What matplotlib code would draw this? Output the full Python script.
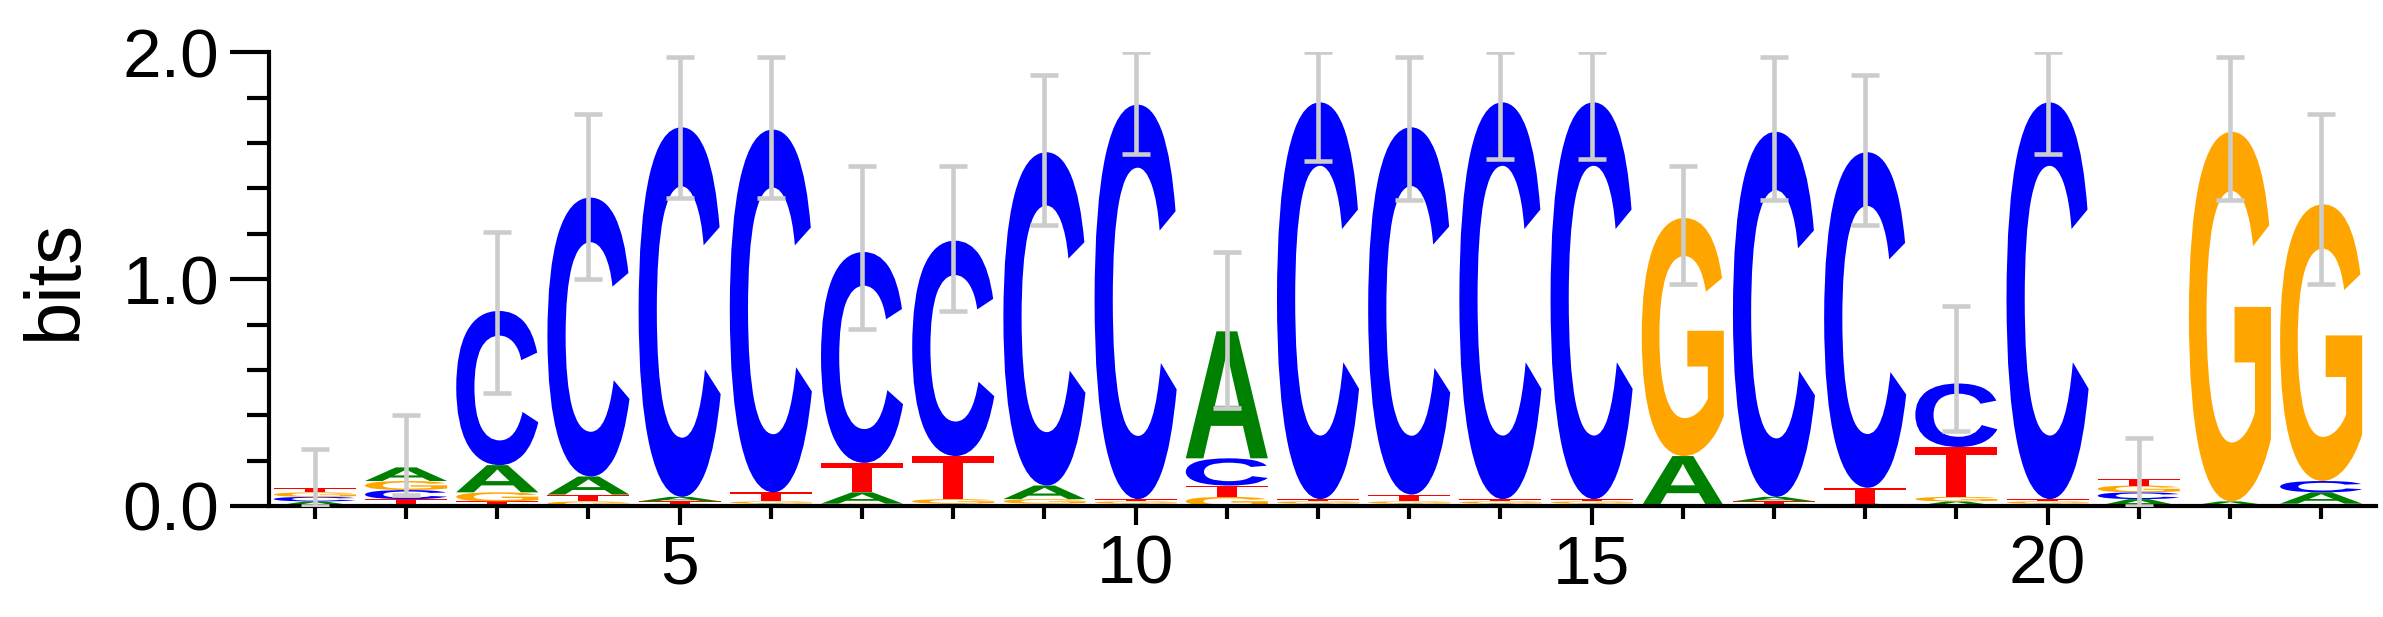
import matplotlib
matplotlib.use('Agg')
import matplotlib.pyplot as plt
import numpy as np
from matplotlib.textpath import TextPath
from matplotlib.patches import PathPatch
from matplotlib.font_manager import FontProperties
from matplotlib.transforms import Affine2D

plt.rcParams['font.family'] = ['Liberation Sans', 'DejaVu Sans']

positions = np.arange(1, 24)
# per-position letter heights in bits
A = [0.02, 0.06, 0.12, 0.08, 0.02, 0.01, 0.05, 0.01, 0.06, 0.01, 0.56, 0.01, 0.01, 0.01, 0.01, 0.22, 0.02, 0.01, 0.02, 0.01, 0.03, 0.02, 0.05]
C = [0.02, 0.04, 0.68, 1.23, 1.63, 1.60, 0.93, 0.95, 1.47, 1.74, 0.12, 1.75, 1.62, 1.75, 1.75, 0.00, 1.61, 1.48, 0.28, 1.75, 0.03, 0.00, 0.05]
G = [0.02, 0.04, 0.04, 0.02, 0.01, 0.01, 0.01, 0.02, 0.02, 0.01, 0.04, 0.01, 0.01, 0.01, 0.01, 1.05, 0.01, 0.00, 0.02, 0.01, 0.03, 1.63, 1.22]
T = [0.02, 0.03, 0.02, 0.03, 0.01, 0.04, 0.13, 0.19, 0.01, 0.01, 0.05, 0.01, 0.03, 0.01, 0.01, 0.00, 0.01, 0.07, 0.22, 0.01, 0.03, 0.00, 0.01]
err_lo = [0.00, 0.05, 0.50, 1.00, 1.36, 1.36, 0.78, 0.86, 1.24, 1.55, 0.43, 1.52, 1.35, 1.53, 1.53, 0.98, 1.35, 1.24, 0.33, 1.55, 0.00, 1.35, 0.98]
err_hi = [0.25, 0.40, 1.21, 1.73, 1.98, 1.98, 1.50, 1.50, 1.90, 2.00, 1.12, 2.00, 1.98, 2.00, 2.00, 1.50, 1.98, 1.90, 0.88, 2.00, 0.30, 1.98, 1.73]

colors = {'A': '#008000', 'C': '#0000ff', 'G': '#ffa500', 'T': '#ff0000'}
fp = FontProperties(family='Liberation Sans', weight='bold')


def draw_letter(ax, ch, x, y, w, h):
    tp = TextPath((0, 0), ch, size=1, prop=fp)
    bb = tp.get_extents()
    tr = (Affine2D().translate(-bb.x0, -bb.y0)
          .scale(w / bb.width, h / bb.height)
          .translate(x - w / 2, y))
    ax.add_patch(PathPatch(tr.transform_path(tp), color=colors[ch], lw=0))


fig = plt.figure(figsize=(23.83, 6.17), dpi=100)
ax = fig.add_axes([0.113, 0.18, 0.884, 0.735])

tops = []
for i, p in enumerate(positions):
    stack = sorted([('A', A[i]), ('C', C[i]), ('G', G[i]), ('T', T[i])], key=lambda t: t[1])
    y = 0
    for ch, h in stack:
        if h > 0:
            draw_letter(ax, ch, p, y, 0.9, h)
        y += h
    tops.append(y)

tops = np.array(tops)
ax.errorbar(positions, tops, yerr=[tops - np.array(err_lo), np.array(err_hi) - tops],
            fmt='none', ecolor='#cccccc', elinewidth=3.3, capsize=10, capthick=3.3, zorder=3)

ax.set_xlim(0.5, 23.6)
ax.set_ylim(0, 2.0)
ax.spines['top'].set_visible(False)
ax.spines['right'].set_visible(False)
ax.spines['left'].set_linewidth(3)
ax.spines['bottom'].set_linewidth(3)
ax.set_yticks([0, 1, 2], labels=['0.0', '1.0', '2.0'])
ax.set_yticks(np.arange(0, 2.01, 0.2), minor=True)
ax.set_xticks([5, 10, 15, 20])
ax.set_xticks(positions, minor=True)
ax.tick_params(axis='y', which='major', length=28, width=3, labelsize=50, pad=8)
ax.tick_params(axis='y', which='minor', length=16, width=3)
ax.tick_params(axis='x', which='major', length=14, width=3, labelsize=50, pad=6)
ax.tick_params(axis='x', which='minor', length=9, width=3)
ax.set_ylabel('bits', fontsize=56, labelpad=22)

plt.savefig('out.png')
